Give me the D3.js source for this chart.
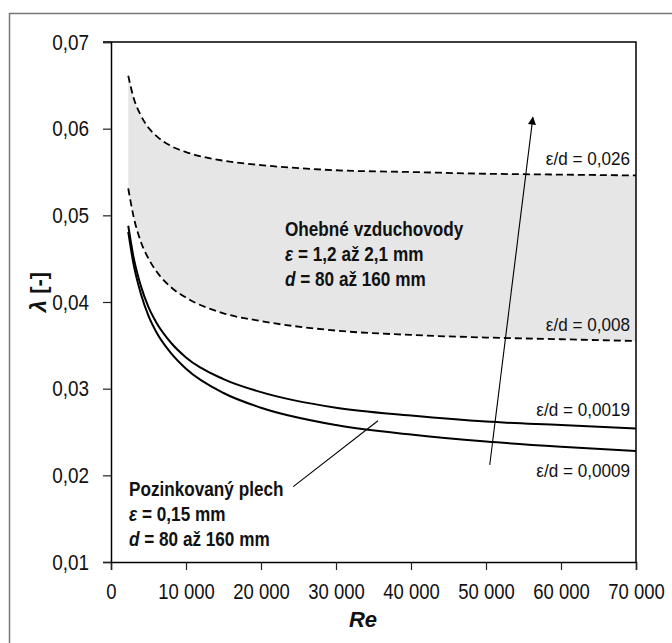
<!DOCTYPE html>
<html>
<head>
<meta charset="utf-8">
<script src="https://cdn.jsdelivr.net/npm/d3@7/dist/d3.min.js"></script>
<style>
  html, body { margin: 0; padding: 0; background: #fff; }
  svg { display: block; }
  text { font-family: "Liberation Sans", Arial, sans-serif; fill: #111; }
</style>
</head>
<body>
<svg id="chart" width="672" height="643"></svg>
<script>
// Reynolds numbers at which the friction factor is tabulated
const reynolds = [2300, 3000, 4000, 5000, 6000, 8000, 10000, 15000, 20000, 30000, 40000, 50000, 60000, 70000];

// Friction factor λ for each relative roughness ε/d
const lambda026  = [0.0661, 0.0636, 0.0615, 0.0601, 0.0592, 0.0580, 0.0573, 0.0563, 0.0558, 0.0552, 0.0550, 0.0548, 0.0547, 0.0546];
const lambda008  = [0.0531, 0.0499, 0.0469, 0.0450, 0.0436, 0.0417, 0.0405, 0.0387, 0.0378, 0.0367, 0.0362, 0.0359, 0.0357, 0.0355];
const lambda0019 = [0.0488, 0.0452, 0.0418, 0.0394, 0.0377, 0.0353, 0.0336, 0.0311, 0.0296, 0.0278, 0.0269, 0.0262, 0.0258, 0.0254];
const lambda0009 = [0.0481, 0.0444, 0.0409, 0.0384, 0.0366, 0.0341, 0.0323, 0.0295, 0.0278, 0.0258, 0.0247, 0.0239, 0.0233, 0.0228];

// Axis ticks
const xTicks = [0, 10000, 20000, 30000, 40000, 50000, 60000, 70000];
const yTicks = [0.01, 0.02, 0.03, 0.04, 0.05, 0.06, 0.07];

// Curve labels at the right end of the chart
const curveLabels = ["ε/d = 0,026", "ε/d = 0,008", "ε/d = 0,0019", "ε/d = 0,0009"];

// Arrow showing growing roughness and the leader line of the sheet-metal note, in data units
const arrowFrom = [50500, 0.0212];
const arrowTo = [56250, 0.0613];
const leaderFrom = [24300, 0.0187];
const leaderTo = [35600, 0.0263];

const cz = d3.formatLocale({ decimal: ",", thousands: " ", grouping: [3], currency: ["", ""] });
const fmtX = cz.format(",d");
const fmtY = cz.format(".2f");

const svg = d3.select("#chart");
const margin = { left: 111, right: 36, top: 42, bottom: 81 };
const W = 672, H = 643;
const x = d3.scaleLinear().domain([0, 70000]).range([margin.left, W - margin.right]);
const y = d3.scaleLinear().domain([0.01, 0.07]).range([H - margin.bottom, margin.top]);

// condense a text element horizontally, keeping its height
function squeeze(sel, k) {
  sel.each(function () {
    const w = this.getComputedTextLength();
    d3.select(this).attr("textLength", w * k).attr("lengthAdjust", "spacingAndGlyphs");
  });
}

// outer frame
svg.append("rect").attr("x", 9.5).attr("y", 13.5).attr("width", 700).attr("height", 700)
  .attr("fill", "none").attr("stroke", "#777").attr("stroke-width", 1.5);

const pts = s => reynolds.map((r, i) => [r, s[i]]);

// shaded band of flexible ducts
const area = d3.area().curve(d3.curveMonotoneX)
  .x((d, i) => x(reynolds[i]))
  .y0((d, i) => y(lambda008[i]))
  .y1((d, i) => y(lambda026[i]));
svg.append("path").datum(lambda026).attr("d", area).attr("fill", "#e6e6e6");

const line = d3.line().curve(d3.curveMonotoneX).x(d => x(d[0])).y(d => y(d[1]));

[lambda026, lambda008].forEach(s => {
  svg.append("path").datum(pts(s)).attr("d", line)
    .attr("fill", "none").attr("stroke", "#000").attr("stroke-width", 1.8)
    .attr("stroke-dasharray", "7,4");
});
[lambda0019, lambda0009].forEach(s => {
  svg.append("path").datum(pts(s)).attr("d", line)
    .attr("fill", "none").attr("stroke", "#000").attr("stroke-width", 2);
});

// plot frame (top and right)
svg.append("path")
  .attr("d", `M${x(0) - 8},${y(0.07)}H${x(70000)}V${y(0.01)}`)
  .attr("fill", "none").attr("stroke", "#000").attr("stroke-width", 1.5);

// axes
const xAxis = d3.axisBottom(x).tickValues(xTicks).tickFormat(fmtX).tickSize(8).tickPadding(13);
const yAxis = d3.axisLeft(y).tickValues(yTicks).tickFormat(fmtY).tickSize(8).tickPadding(14);
const gx = svg.append("g").attr("transform", `translate(0,${y(0.01)})`).call(xAxis);
const gy = svg.append("g").attr("transform", `translate(${x(0)},0)`).call(yAxis);
[gx, gy].forEach(g => {
  g.select(".domain").attr("stroke", "#000").attr("stroke-width", 1.5);
  g.selectAll(".tick line").attr("stroke", "#222").attr("stroke-width", 1.2);
  g.selectAll(".tick text").attr("font-size", 22).attr("fill", "#111")
    .style("font-family", '"Liberation Sans", Arial, sans-serif');
});
squeeze(gx.selectAll(".tick text"), 0.84);
squeeze(gy.selectAll(".tick text"), 0.86);

// axis titles
svg.append("text").attr("x", 363).attr("y", 627).attr("text-anchor", "middle")
  .attr("font-size", 22).attr("font-weight", "bold").attr("font-style", "italic").text("Re");
const yt = svg.append("text").attr("transform", "translate(46,292) rotate(-90)")
  .attr("text-anchor", "middle").attr("font-size", 22).attr("font-weight", "bold");
yt.append("tspan").attr("font-style", "italic").text("λ");
yt.append("tspan").text(" [-]");

// curve labels at the right end
const labelY = [165, 331, 416, 477];
curveLabels.forEach((t, i) => {
  const el = svg.append("text").attr("x", 630).attr("y", labelY[i]).attr("text-anchor", "end")
    .attr("font-size", 19).text(t);
  squeeze(el, 0.9);
});

// arrow of increasing roughness
const defs = svg.append("defs");
defs.append("marker").attr("id", "head").attr("viewBox", "0 0 10 10")
  .attr("refX", 9).attr("refY", 5).attr("markerWidth", 14).attr("markerHeight", 8)
  .attr("markerUnits", "userSpaceOnUse").attr("orient", "auto")
  .append("path").attr("d", "M0,0L10,5L0,10Z").attr("fill", "#000");
svg.append("line")
  .attr("x1", x(arrowFrom[0])).attr("y1", y(arrowFrom[1]))
  .attr("x2", x(arrowTo[0])).attr("y2", y(arrowTo[1]))
  .attr("stroke", "#000").attr("stroke-width", 1.1).attr("marker-end", "url(#head)");

// leader line of the galvanised sheet note
svg.append("line")
  .attr("x1", x(leaderFrom[0])).attr("y1", y(leaderFrom[1]))
  .attr("x2", x(leaderTo[0])).attr("y2", y(leaderTo[1]))
  .attr("stroke", "#000").attr("stroke-width", 1.1);

// annotation blocks
function note(x0, y0, lines) {
  lines.forEach((parts, i) => {
    const t = svg.append("text").attr("x", x0).attr("y", y0 + i * 25)
      .attr("font-size", 19.5).attr("font-weight", "bold");
    parts.forEach(p => {
      const s = t.append("tspan").text(p.t);
      if (p.i) s.attr("font-style", "italic");
    });
    squeeze(t, 0.88);
  });
}
note(285, 236, [
  [{ t: "Ohebné vzduchovody" }],
  [{ t: "ε", i: true }, { t: " = 1,2 až 2,1 mm" }],
  [{ t: "d", i: true }, { t: " = 80 až 160 mm" }]
]);
note(129, 496, [
  [{ t: "Pozinkovaný plech" }],
  [{ t: "ε", i: true }, { t: " = 0,15 mm" }],
  [{ t: "d", i: true }, { t: " = 80 až 160 mm" }]
]);
</script>
</body>
</html>
